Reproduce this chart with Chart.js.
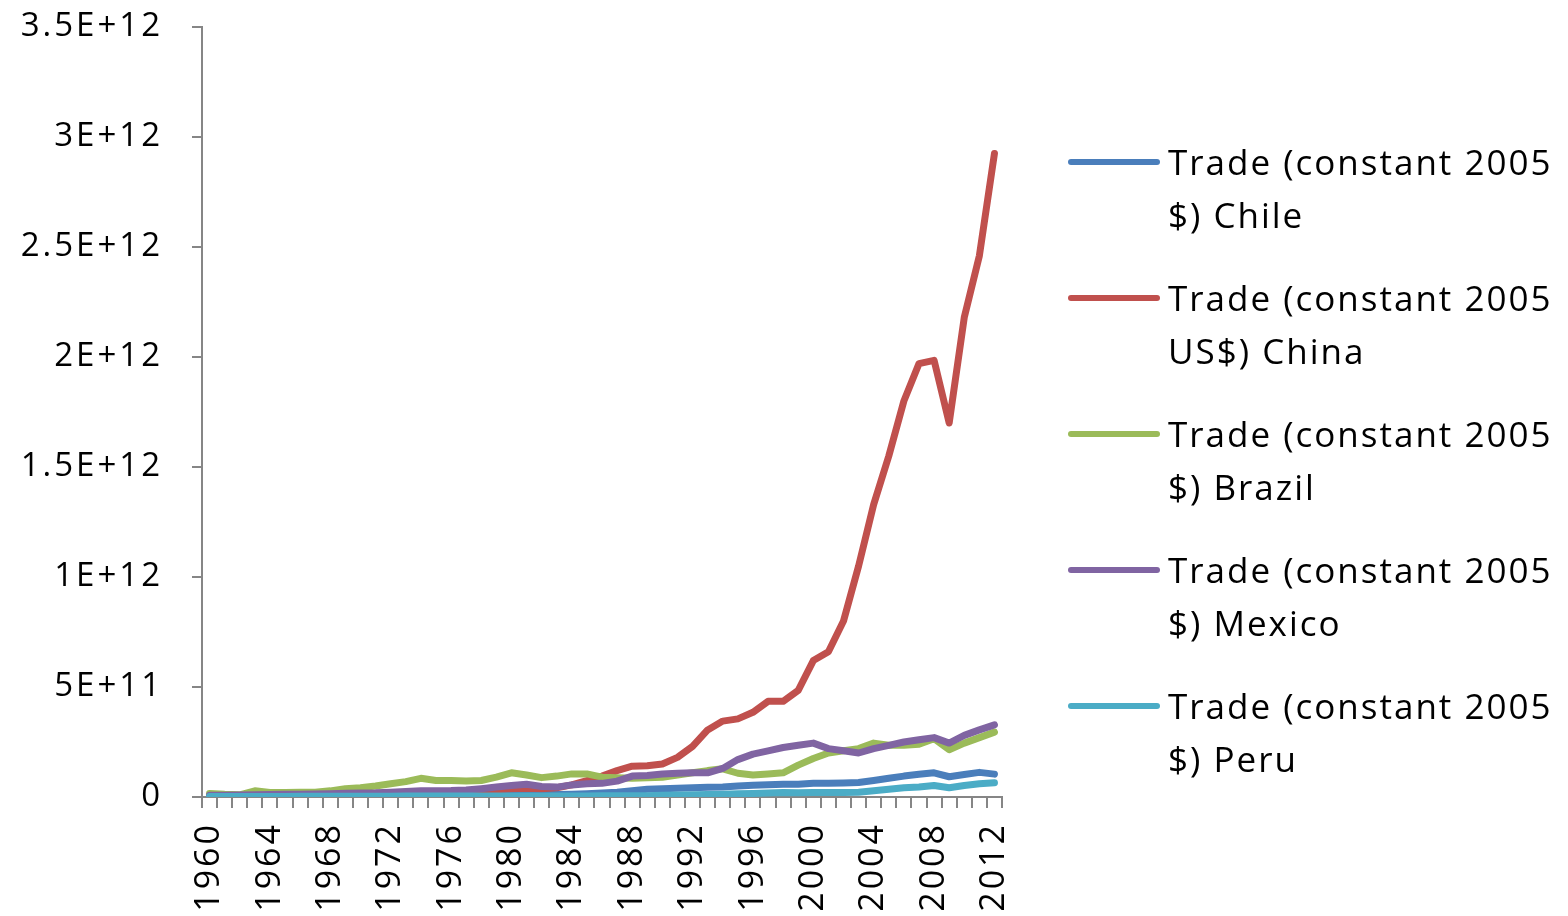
<!DOCTYPE html>
<html>
<head>
<meta charset="utf-8">
<script src="https://cdn.jsdelivr.net/npm/chart.js@4/dist/chart.umd.min.js"></script>
<style>
  html, body { margin: 0; padding: 0; background: #fff; }
  #wrap { position: relative; width: 1568px; height: 916px; }
  #myChart { position: absolute; left: 0; top: 0; }
  #legend { position: absolute; left: 1068px; top: 135px; font-family: "Open Sans", sans-serif; font-size: 35px; letter-spacing: 2px; color: #000; }
  .item { display: flex; align-items: flex-start; height: 136px; }
  .swatch { width: 92px; height: 6px; border-radius: 3px; margin-top: 24px; margin-right: 8px; flex: none; }
  .txt { line-height: 53px; white-space: nowrap; }
</style>
</head>
<body>
<div id="wrap">
  <canvas id="myChart" width="1568" height="916"></canvas>
  <div id="legend"></div>
</div>
<script>
// values in billions of constant 2005 US$
let years = [];
for (let y = 1960; y <= 2012; y++) years.push(String(y));

const chile = [3, 3, 3, 3, 3, 3, 4, 4, 4, 4,
    5, 5, 5, 6, 7, 6, 6, 7, 8, 10,
    12, 12, 11, 11, 13, 15, 18, 22, 28, 35,
    38, 40, 42, 44, 45, 50, 53, 56, 58, 58,
    62, 63, 64, 66, 75, 85, 95, 103, 110, 92,
    102, 112, 104];
const china = [8, 6, 5, 5, 6, 7, 8, 7, 7, 7,
    8, 9, 11, 15, 18, 19, 18, 20, 27, 33,
    38, 40, 38, 42, 55, 75, 95, 120, 140, 142,
    150, 180, 230, 305, 345, 355, 385, 435, 435, 485,
    620, 660, 800, 1050, 1330, 1550, 1800, 1970, 1985, 1700,
    2180, 2460, 2925];
const brazil = [16, 12, 10, 28, 20, 20, 22, 22, 28, 38,
    42, 50, 60, 70, 85, 75, 75, 73, 75, 90,
    110, 100, 88, 95, 105, 105, 90, 88, 85, 88,
    90, 100, 110, 120, 128, 108, 100, 105, 110, 145,
    175, 200, 210, 220, 245, 235, 235, 240, 265, 215,
    245, 270, 295];
const mexico = [8, 8, 9, 10, 11, 12, 13, 14, 15, 17,
    18, 19, 22, 25, 28, 28, 29, 32, 38, 45,
    52, 58, 48, 45, 55, 60, 62, 72, 95, 98,
    105, 108, 110, 110, 130, 170, 195, 210, 225, 235,
    245, 220, 210, 200, 220, 235, 250, 260, 270, 245,
    280, 305, 328];
const peru = [2, 2, 2, 2, 2, 2, 3, 3, 3, 3,
    3, 3, 3, 4, 4, 4, 4, 4, 4, 5,
    5, 5, 5, 5, 5, 5, 6, 6, 6, 6,
    8, 9, 10, 11, 13, 15, 16, 18, 20, 19,
    20, 20, 20, 22, 28, 35, 42, 45, 52, 42,
    52, 60, 65];

const seriesNames = [
    ['Trade (constant 2005', '$) Chile'],
    ['Trade (constant 2005', 'US$) China'],
    ['Trade (constant 2005', '$) Brazil'],
    ['Trade (constant 2005', '$) Mexico'],
    ['Trade (constant 2005', '$) Peru'],
];
const colors = ['#4a7ebb', '#c0504d', '#9bbb59', '#8064a2', '#4bacc6'];
const yTicks = ['0', '5E+11', '1E+12', '1.5E+12', '2E+12', '2.5E+12', '3E+12', '3.5E+12'];

const allData = [chile, china, brazil, mexico, peru];

function makeDataset(i) {
    return {
        label: seriesNames[i].join(' '),
        data: allData[i],
        borderColor: colors[i],
        backgroundColor: colors[i],
        borderWidth: 7,
        pointRadius: 0,
        tension: 0,
        borderJoinStyle: 'round',
        borderCapStyle: 'round',
        order: 5 - i
    };
}

// the original tick text is spaced out a bit
const spacedText = {
    id: 'spacedText',
    beforeDraw(chart) { chart.ctx.letterSpacing = '3px'; }
};

let lineChartConfig = {
    type: 'line',
    data: {
        labels: years,
        datasets: [0, 1, 2, 3, 4].map(makeDataset)
    },
    options: {
        responsive: false,
        animation: false,
        layout: { padding: { top: 27, right: 566, left: 0, bottom: 0 } },
        plugins: {
            legend: { display: false },
            tooltip: { enabled: false }
        },
        scales: {
            x: {
                offset: true,
                grid: { offset: true, drawOnChartArea: false, color: '#868686', lineWidth: 2, tickLength: 11 },
                border: { color: '#868686', width: 2 },
                ticks: {
                    autoSkip: false,
                    minRotation: 90,
                    maxRotation: 90,
                    padding: 14,
                    color: '#000',
                    font: { family: 'Open Sans', size: 34 },
                    callback: function (val, idx) {
                        return idx % 4 === 0 ? years[idx] : '';
                    }
                },
                afterFit: function (scale) { scale.height = 119; }
            },
            y: {
                min: 0,
                max: 3500,
                grid: { drawOnChartArea: false, color: '#868686', lineWidth: 2, tickLength: 10 },
                border: { color: '#868686', width: 2 },
                ticks: {
                    stepSize: 500,
                    padding: 29,
                    color: '#000',
                    font: { family: 'Open Sans', size: 33 },
                    callback: function (val) { return yTicks[Math.round(val / 500)]; }
                },
                afterFit: function (scale) {
                    scale.width = 202;
                    scale.paddingTop = 0;
                    scale.paddingBottom = 0;
                }
            }
        }
    },
    plugins: [spacedText]
};

function BuildLegend(chart) {
    const box = document.getElementById('legend');
    chart.data.datasets.forEach(function (ds, i) {
        const item = document.createElement('div');
        item.className = 'item';
        const sw = document.createElement('div');
        sw.className = 'swatch';
        sw.style.background = ds.borderColor;
        const t = document.createElement('div');
        t.className = 'txt';
        t.innerHTML = seriesNames[i].join('<br>');
        item.appendChild(sw);
        item.appendChild(t);
        box.appendChild(item);
    });
}

const ctx = document.getElementById('myChart');
const chart = new Chart(ctx, lineChartConfig);
BuildLegend(chart);
</script>
</body>
</html>
